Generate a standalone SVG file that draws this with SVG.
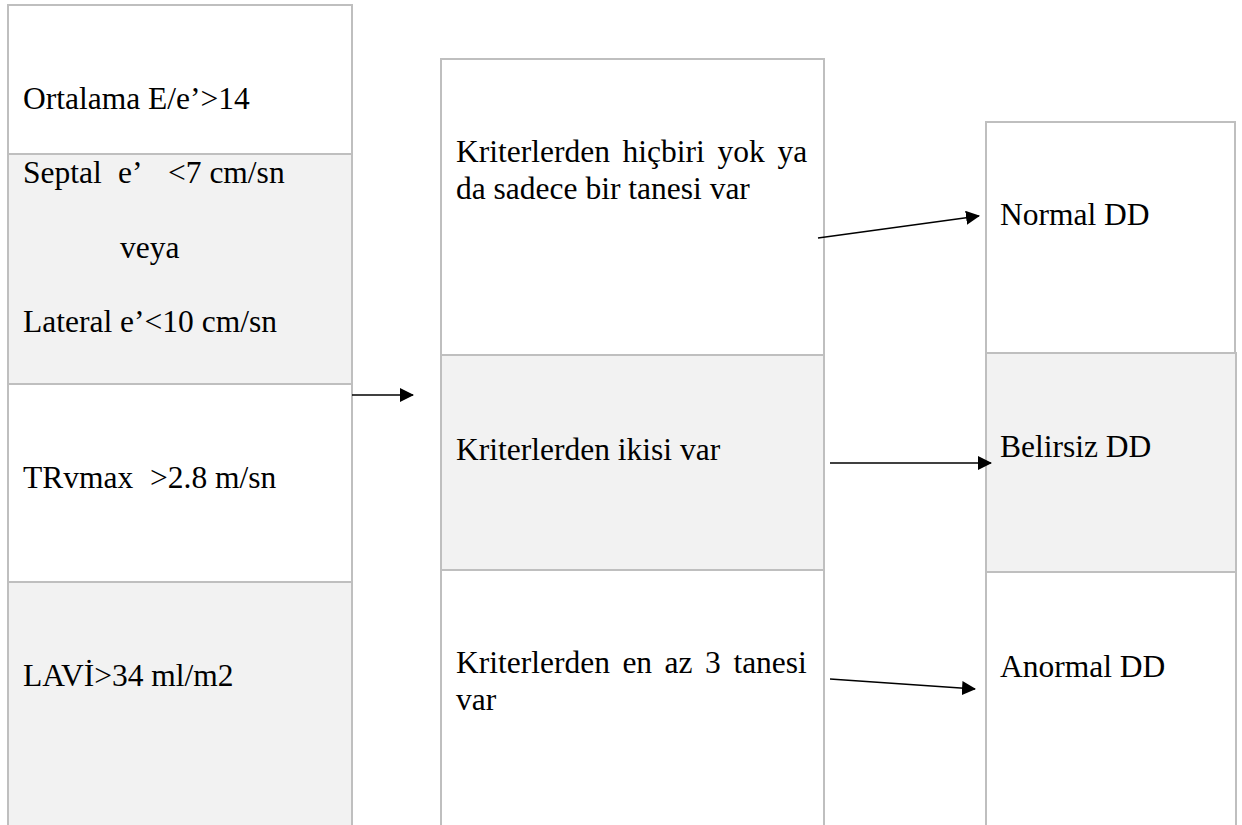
<svg xmlns="http://www.w3.org/2000/svg" width="1242" height="825" viewBox="0 0 1242 825">
<style>
.cell{stroke:#bfbfbf;stroke-width:2}
.w{fill:#ffffff}
.g{fill:#f2f2f2}
.t{font-family:"Liberation Serif","Times New Roman","DejaVu Serif",serif;font-size:31.5px;fill:#000}
.c{stroke:#000;stroke-width:1.5;fill:none}
</style>
<defs>
<marker id="ah" markerWidth="14" markerHeight="14" refX="13" refY="7" orient="auto" markerUnits="userSpaceOnUse">
<path d="M0,0 L14,7 L0,14 Z" fill="#000"/>
</marker>
</defs>
<rect width="1242" height="825" fill="#fff"/>
<g id="left-col">
<g id="n-ortalama"><rect class="cell w" x="8" y="5" width="344" height="149"/><text class="t" font-family="Liberation Serif, serif" x="23" y="109">Ortalama E/e’&gt;14</text></g>
<g id="n-septal"><rect class="cell g" x="8" y="154" width="344" height="230"/>
<text class="t" y="183"><tspan x="23">Septal</tspan><tspan x="118">e’</tspan><tspan x="168">&lt;7 cm/sn</tspan></text>
<text class="t" x="120" y="258">veya</text>
<text class="t" x="23" y="332">Lateral e’&lt;10 cm/sn</text></g>
<g id="n-trvmax"><rect class="cell w" x="8" y="384" width="344" height="198"/><text class="t" y="488"><tspan x="23">TRvmax</tspan><tspan x="150">&gt;2.8 m/sn</tspan></text></g>
<g id="n-lavi"><rect class="cell g" x="8" y="582" width="344" height="260"/><text class="t" x="23" y="686">LAVİ&gt;34 ml/m2</text></g>
</g>
<g id="mid-col">
<g id="n-none"><rect class="cell w" x="441" y="59" width="383" height="296"/>
<text class="t" y="162"><tspan x="456">Kriterlerden</tspan><tspan x="622.6">hiçbiri</tspan><tspan x="717.5">yok</tspan><tspan x="777.5">ya</tspan></text>
<text class="t" x="456" y="199">da sadece bir tanesi var</text></g>
<g id="n-two"><rect class="cell g" x="441" y="355" width="383" height="215"/><text class="t" x="456" y="460">Kriterlerden ikisi var</text></g>
<g id="n-three"><rect class="cell w" x="441" y="570" width="383" height="272"/>
<text class="t" y="673"><tspan x="456">Kriterlerden</tspan><tspan x="622.4">en</tspan><tspan x="664.6">az</tspan><tspan x="705.1">3</tspan><tspan x="733.4">tanesi</tspan></text>
<text class="t" x="456" y="710">var</text></g>
</g>
<g id="right-col">
<g id="n-normal"><rect class="cell w" x="986" y="122" width="249" height="231"/><text class="t" x="1000" y="225">Normal DD</text></g>
<g id="n-belirsiz"><rect class="cell g" x="986" y="353" width="250" height="219"/><text class="t" x="1000" y="457">Belirsiz DD</text></g>
<g id="n-anormal"><rect class="cell w" x="986" y="572" width="250" height="270"/><text class="t" x="1000" y="677">Anormal DD</text></g>
</g>
<g id="connectors">
<line class="c" x1="352" y1="395" x2="413" y2="395" marker-end="url(#ah)"/>
<line class="c" x1="818" y1="238" x2="979" y2="216" marker-end="url(#ah)"/>
<line class="c" x1="830" y1="463" x2="991" y2="463" marker-end="url(#ah)"/>
<line class="c" x1="830" y1="679" x2="975" y2="689" marker-end="url(#ah)"/>
</g>
</svg>
